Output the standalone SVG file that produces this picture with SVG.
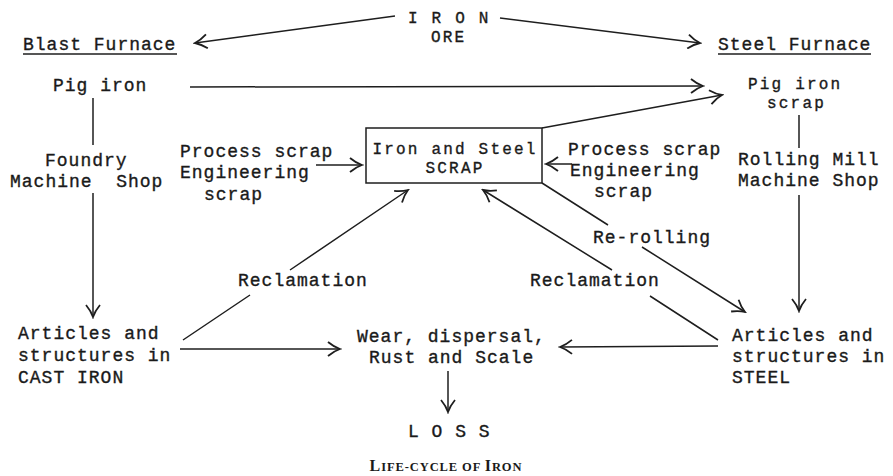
<svg xmlns="http://www.w3.org/2000/svg" width="893" height="476" viewBox="0 0 893 476">
<style>
text{font-family:"Liberation Mono","DejaVu Sans Mono",monospace;font-size:18px;letter-spacing:1px;fill:#1a1a1a;stroke:#1a1a1a;stroke-width:0.35}
.c{text-anchor:middle}
.s{font-size:16px;letter-spacing:2.2px}
.ln{stroke:#1e1e1e;stroke-width:1.5;fill:none}
.ar{marker-end:url(#ah)}
.cap{font-family:"Liberation Serif","Times New Roman",serif;font-weight:bold;font-size:12.5px;letter-spacing:0.9px;stroke:none}
</style>
<defs>
<marker id="ah" markerUnits="userSpaceOnUse" markerWidth="16" markerHeight="16" viewBox="0 0 16 16" refX="14" refY="8" orient="auto">
<path d="M2,1 Q8,6 14,8 Q8,10 2,15" fill="none" stroke="#1e1e1e" stroke-width="1.8"/>
</marker>
</defs>
<rect width="893" height="476" fill="#fff"/>
<g id="connectors">
<line class="ln ar" x1="395" y1="16" x2="195" y2="43"/>
<line class="ln ar" x1="500" y1="18" x2="700" y2="43"/>
<line class="ln ar" x1="190" y1="87" x2="703" y2="86"/>
<line class="ln ar" x1="542" y1="128" x2="722" y2="95"/>
<line class="ln" x1="93" y1="98" x2="93" y2="145"/>
<line class="ln ar" x1="93" y1="193" x2="93" y2="317"/>
<line class="ln" x1="799" y1="115" x2="799" y2="148"/>
<line class="ln ar" x1="799" y1="195" x2="799" y2="311"/>
<line class="ln ar" x1="316" y1="165" x2="362" y2="165"/>
<line class="ln ar" x1="572" y1="164" x2="546" y2="164"/>
<path class="ln ar" d="M542,183 L608,225 M642,247 L745,312"/>
<path class="ln ar" d="M718,340 L650,296 M612,270 L483,190"/>
<path class="ln ar" d="M183,340 L250,295 M290,270 L408,190"/>
<line class="ln ar" x1="180" y1="349" x2="340" y2="349"/>
<line class="ln ar" x1="718" y1="346" x2="560" y2="347"/>
<line class="ln ar" x1="448" y1="371" x2="448" y2="412"/>
</g>
<g id="iron-ore">
<text class="s" x="408" y="23">I R O N</text>
<text class="s" x="431" y="42">ORE</text>
</g>
<g id="blast-furnace">
<text x="23" y="50">Blast Furnace</text>
<line class="ln" x1="23" y1="54" x2="177" y2="54" stroke-width="1.3"/>
</g>
<g id="steel-furnace">
<text x="718" y="50">Steel Furnace</text>
<line class="ln" x1="718" y1="54" x2="871" y2="54" stroke-width="1.3"/>
</g>
<g id="pig-iron">
<text x="53" y="91">Pig iron</text>
</g>
<g id="pig-iron-scrap">
<text class="s" x="748" y="89">Pig iron</text>
<text class="s" x="767" y="108">scrap</text>
</g>
<g id="foundry">
<text x="45" y="166">Foundry</text>
<text x="10" y="187" word-spacing="11.8">Machine Shop</text>
</g>
<g id="rolling-mill">
<text x="738" y="165">Rolling Mill</text>
<text x="738" y="186">Machine Shop</text>
</g>
<g id="process-scrap-left">
<text x="180" y="157">Process scrap</text>
<text x="180" y="178">Engineering</text>
<text x="204" y="200">scrap</text>
</g>
<g id="process-scrap-right">
<text x="568" y="155">Process scrap</text>
<text x="570" y="176">Engineering</text>
<text x="594" y="197">scrap</text>
</g>
<g id="scrap">
<rect x="366" y="128" width="176" height="55" fill="none" stroke="#1e1e1e" stroke-width="1.5"/>
<text class="s c" x="455" y="154">Iron and Steel</text>
<text class="s c" x="455" y="173">SCRAP</text>
</g>
<g id="re-rolling">
<text x="593" y="243">Re-rolling</text>
</g>
<g id="reclamation-left">
<text x="238" y="286">Reclamation</text>
</g>
<g id="reclamation-right">
<text x="530" y="286">Reclamation</text>
</g>
<g id="cast-iron">
<text x="18" y="339">Articles and</text>
<text x="18" y="361">structures in</text>
<text x="18" y="383">CAST IRON</text>
</g>
<g id="steel">
<text x="732" y="341">Articles and</text>
<text x="732" y="362">structures in</text>
<text x="732" y="383">STEEL</text>
</g>
<g id="wear">
<text x="357" y="342">Wear, dispersal,</text>
<text x="369" y="363">Rust and Scale</text>
</g>
<g id="loss">
<text x="408" y="437">L O S S</text>
</g>
<g id="caption">
<text class="cap c" x="446" y="471"><tspan font-size="16">L</tspan>IFE-CYCLE OF <tspan font-size="16">I</tspan>RON</text>
</g>
</svg>
